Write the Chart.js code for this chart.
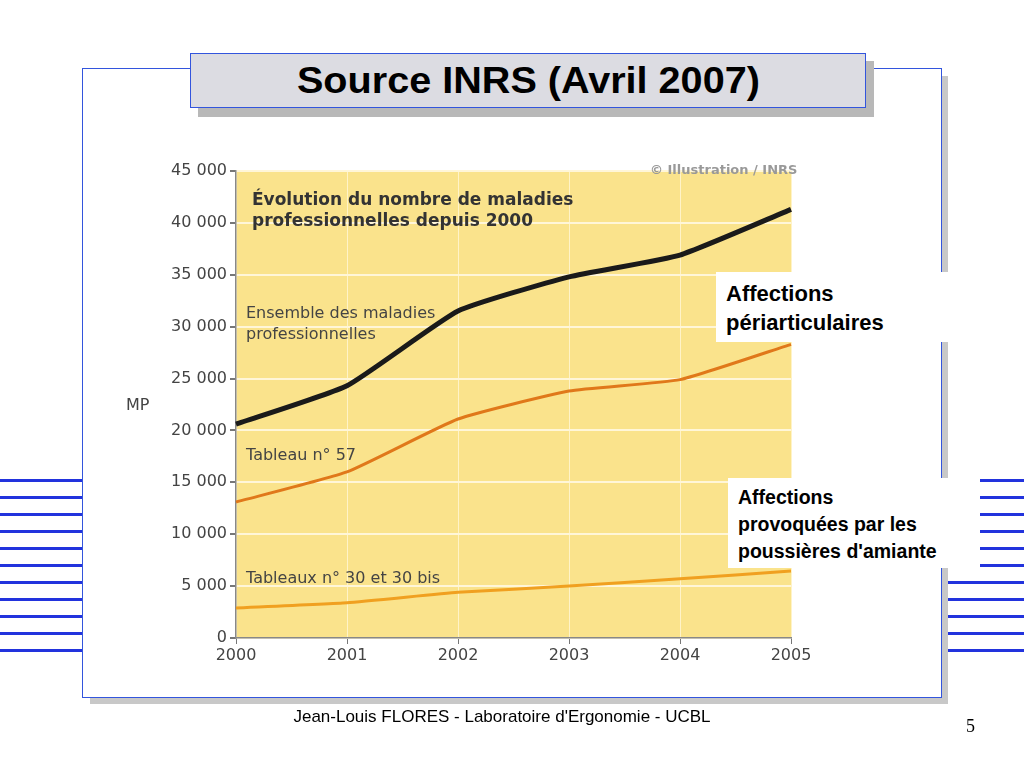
<!DOCTYPE html>
<html><head><meta charset="utf-8">
<script src="https://cdn.jsdelivr.net/npm/chart.js"></script>
<style>
body{margin:0;width:1024px;height:768px;position:relative;background:#fff;overflow:hidden;font-family:"Liberation Sans",Arial,sans-serif}
.abs{position:absolute}
.hl{position:absolute;height:3px;background:#2233dd}
</style></head><body>
<div id="lines"></div>
<div class="abs" style="left:90px;top:76px;width:858px;height:628px;background:#c8c8c8"></div>
<div class="abs" style="left:82px;top:68px;width:858px;height:628px;background:#fff;border:1.5px solid #3355dd"></div>
<div class="abs" style="left:198px;top:61px;width:676px;height:56px;background:#b8b8b8"></div>
<div class="abs" style="left:190px;top:53px;width:674px;height:53px;background:#dcdce2;border:1.5px solid #3355dd;font-weight:bold;font-size:36px;text-align:center;line-height:53px"><span style="display:inline-block;transform:scaleX(1.1)">Source INRS (Avril 2007)</span></div>
<canvas id="c" class="abs" style="left:0;top:0" width="1024" height="768"></canvas>
<div class="abs" style="left:716px;top:272px;width:252px;height:70px;background:#fff;font-weight:bold;font-size:22px;line-height:29px;padding:7px 0 0 10px;box-sizing:border-box">Affections<br>périarticulaires</div>
<div class="abs" style="left:728px;top:478px;width:252px;height:90px;background:#fff;font-weight:bold;font-size:19.5px;line-height:27px;padding:6px 0 0 10px;box-sizing:border-box">Affections<br>provoquées par les<br>poussières d'amiante</div>
<div class="abs" style="left:0;top:707px;width:1004px;text-align:center;font-size:17px">Jean-Louis FLORES - Laboratoire d'Ergonomie - UCBL</div>
<div class="abs" style="left:966px;top:716px;font-size:18px;font-family:'Liberation Serif',serif">5</div>
<script>
const years=["2000","2001","2002","2003","2004","2005"];
const ensemble=[20600,24300,31500,34800,36900,41300];
const tableau57=[13100,16000,21100,23800,24900,28300];
const tableau30=[2900,3400,4400,5000,5700,6450];
const yTicks=[0,5000,10000,15000,20000,25000,30000,35000,40000,45000];

const L=document.getElementById('lines');
for(let i=0;i<11;i++){const y=479+i*17;
 L.innerHTML+=`<div class="hl" style="left:0;top:${y}px;width:84px"></div><div class="hl" style="left:940px;top:${y}px;width:84px"></div>`;}

const fmt=v=>v===0?'0':(Math.floor(v/1000)+' '+String(v%1000).padStart(3,'0'));
const deco={id:'deco',
 beforeDraw(ch){const a=ch.chartArea,c=ch.ctx;c.save();c.fillStyle='#fae38c';c.fillRect(a.left,a.top,a.right-a.left,a.bottom-a.top);c.restore();},
 afterDatasetsDraw(ch){const c=ch.ctx;c.save();
  c.fillStyle='#333';c.font='bold 17px "DejaVu Sans"';
  c.fillText('Évolution du nombre de maladies',252,205);c.fillText('professionnelles depuis 2000',252,226);
  c.fillStyle='#444';c.font='16px "DejaVu Sans"';
  c.fillText('Ensemble des maladies',246,318);c.fillText('professionnelles',246,339);
  c.fillText('Tableau n° 57',246,460);c.fillText('Tableaux n° 30 et 30 bis',246,583);
  c.fillText('MP',126,410);
  c.fillStyle='#999';c.font='bold 13px "DejaVu Sans"';c.fillText('© Illustration / INRS',650,174);
  c.restore();}};
new Chart(document.getElementById('c'),{type:'line',
 data:{labels:years,datasets:[
  {data:ensemble,borderColor:'#1a1a1a',borderWidth:5,pointRadius:0,tension:0.15},
  {data:tableau57,borderColor:'#e0781a',borderWidth:3,pointRadius:0,tension:0.15},
  {data:tableau30,borderColor:'#f0a020',borderWidth:3,pointRadius:0,tension:0.15}]},
 options:{responsive:false,animation:false,events:[],
  layout:{padding:{left:150,top:171,right:233,bottom:90}},
  plugins:{legend:{display:false},tooltip:{enabled:false}},
  scales:{
   x:{offset:false,grid:{color:'#fff3c8',lineWidth:1,tickColor:'#777',tickLength:6},border:{color:'#888',width:1.5},
      ticks:{color:'#444',font:{family:'DejaVu Sans',size:16},maxRotation:0,padding:2},
      afterFit(s){s.height=40;}},
   y:{min:0,max:45000,afterBuildTicks(s){s.ticks=yTicks.map(v=>({value:v}));},
      grid:{color:'#fff6d8',lineWidth:2,tickColor:'#777',tickLength:6},border:{color:'#888',width:1.5},
      ticks:{color:'#444',font:{family:'DejaVu Sans',size:16},callback:v=>fmt(v),padding:3},
      afterFit(s){s.width=86;}}}},
 plugins:[deco]});
</script></body></html>
